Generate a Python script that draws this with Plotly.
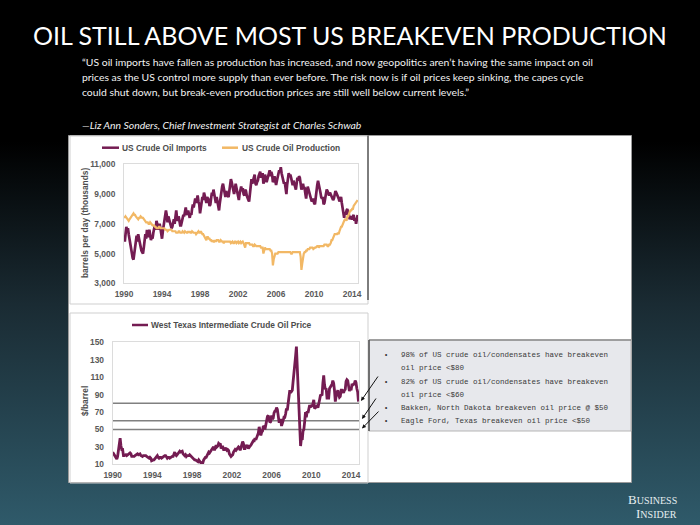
import base64
import pandas as pd
import plotly.graph_objects as go

W, H = 700, 525

# ---------------- data ----------------
imports_kbd = [
    6200, 5800, 6300, 6800, 6500, 6700, 6300, 5900, 5600, 5300, 5000, 4700,
    4600, 5000, 5400, 5900, 6200, 5800, 6300, 6000, 5700, 5400, 5200, 5100,
    5000, 5400, 5800, 6300, 6000, 6600, 6400, 6100, 6600, 6200, 5900, 6100,
    6000, 6400, 6700, 6900, 6600, 7200, 7000, 6600, 6900, 7000, 6700, 6400,
    6000, 6500, 6800, 7200, 7500, 7900, 7600, 7100, 7500, 7300, 7000, 6900,
    6700, 6800, 7100, 7300, 7000, 7600, 7900, 7400, 7200, 7500, 7100, 6900,
    6900, 7100, 7300, 7600, 7500, 7900, 8100, 7700, 7600, 7900, 7500, 7400,
    7700, 7600, 8000, 8300, 8100, 8500, 8700, 8400, 8600, 8900, 8500, 8300,
    7700, 8000, 8500, 8800, 8600, 9100, 8900, 8500, 8400, 8800, 8700, 8600,
    8200, 8300, 8700, 9100, 8900, 9300, 9000, 8600, 8400, 8800, 8500, 8300,
    7900, 8400, 8800, 9300, 9500, 9700, 9400, 9100, 8800, 9200, 9000, 8900,
    8800, 9200, 9600, 10000, 9800, 9500, 9200, 9000, 9300, 9700, 9400, 9100,
    8700, 8600, 9000, 9300, 9500, 9200, 9400, 9000, 8900, 9300, 9200, 8900,
    8800, 8600, 8500, 9200, 9600, 10000, 9700, 9900, 10100, 10300, 9700, 9600,
    9800, 9900, 10200, 10300, 10500, 10100, 10300, 10400, 9700, 9900, 10300, 10100,
    9800, 10000, 10300, 10400, 10600, 10200, 10500, 10300, 9800, 9900, 10200, 10000,
    9600, 9900, 10200, 10400, 10600, 10500, 10800, 10400, 10100, 9900, 9700, 9800,
    9100, 9000, 9600, 10000, 10400, 10200, 10300, 10100, 9800, 9600, 9900, 9700,
    9500, 9300, 9700, 10100, 9900, 10200, 10100, 9800, 9300, 9500, 9700, 9400,
    9400, 9000, 8700, 9200, 9500, 9300, 9100, 8900, 8700, 8500, 8600, 8700,
    8400, 8300, 8700, 9300, 9600, 9900, 9700, 9400, 9100, 8800, 8700, 8800,
    8300, 8400, 8800, 9100, 9300, 9200, 9000, 8900, 9100, 9000, 8800, 8700,
    8600, 8700, 9000, 9200, 9100, 9000, 8800, 8700, 8500, 8600, 8800, 8400,
    8000, 7700, 7400, 7800, 7600, 7900, 8000, 7700, 7600, 7300, 7500, 7400,
    7300, 7500, 7600, 7200, 7400, 7000, 7300, 7600,
]

production_kbd = [
    7500, 7400, 7500, 7400, 7300, 7200, 7200, 7300, 7400, 7500, 7600, 7600,
    7700, 7600, 7600, 7500, 7400, 7300, 7300, 7400, 7400, 7500, 7400, 7400,
    7400, 7300, 7300, 7200, 7100, 7100, 7100, 7000, 7000, 7100, 7000, 6900,
    6900, 6900, 6900, 6800, 6800, 6700, 6700, 6700, 6800, 6800, 6700, 6700,
    6700, 6700, 6700, 6700, 6600, 6600, 6600, 6500, 6600, 6600, 6600, 6600,
    6600, 6500, 6500, 6500, 6500, 6500, 6400, 6400, 6400, 6500, 6500, 6400,
    6400, 6400, 6500, 6400, 6400, 6500, 6400, 6400, 6400, 6500, 6400, 6500,
    6400, 6400, 6500, 6400, 6400, 6400, 6400, 6300, 6400, 6500, 6500, 6400,
    6400, 6500, 6400, 6300, 6300, 6200, 6200, 6100, 5900, 6100, 6100, 6000,
    6000, 5900, 5900, 5800, 5900, 5800, 5800, 5900, 5800, 5900, 5900, 5900,
    5800, 5800, 5900, 5800, 5800, 5800, 5700, 5800, 5800, 5800, 5800, 5800,
    5800, 5800, 5800, 5700, 5800, 5800, 5700, 5700, 5800, 5800, 5700, 5800,
    5800, 5700, 5800, 5800, 5700, 5800, 5800, 5700, 5500, 5400, 5700, 5700,
    5700, 5700, 5700, 5600, 5600, 5600, 5600, 5500, 5500, 5600, 5500, 5500,
    5500, 5500, 5500, 5500, 5500, 5400, 5400, 5400, 5000, 5200, 5400, 5300,
    5300, 5300, 5300, 5300, 5300, 5200, 5200, 5000, 4200, 4600, 4800, 5000,
    5000, 5000, 5000, 5100, 5100, 5100, 5100, 5100, 5100, 5100, 5100, 5100,
    5100, 5100, 5100, 5100, 5100, 5100, 5100, 5000, 5000, 5100, 5100, 5100,
    5100, 5100, 5100, 5100, 5100, 5100, 5100, 4800, 3900, 4300, 4900, 5000,
    5100, 5100, 5200, 5200, 5300, 5300, 5300, 5400, 5400, 5400, 5400, 5300,
    5400, 5400, 5400, 5500, 5500, 5500, 5400, 5500, 5500, 5500, 5500, 5500,
    5500, 5600, 5600, 5600, 5600, 5500, 5500, 5600, 5600, 5700, 5900, 5900,
    6100, 6200, 6300, 6300, 6300, 6300, 6400, 6300, 6500, 6700, 6800, 6800,
    7000, 7100, 7200, 7300, 7300, 7200, 7500, 7500, 7700, 7800, 7900, 7900,
    8000, 8000, 8200, 8300, 8400, 8500, 8600, 8600,
]

wti_usd = [
    24, 22, 20, 18, 17, 16, 19, 28, 35, 40, 31, 27,
    27, 20, 20, 21, 21, 20, 21, 22, 22, 23, 22, 19,
    19, 19, 19, 20, 21, 22, 22, 21, 22, 22, 20, 19,
    19, 20, 20, 20, 20, 19, 18, 18, 17, 18, 17, 14,
    15, 15, 15, 16, 18, 19, 20, 18, 17, 18, 18, 17,
    18, 18, 19, 20, 20, 18, 17, 18, 18, 17, 18, 19,
    19, 19, 21, 24, 21, 20, 21, 22, 24, 25, 24, 25,
    25, 22, 21, 20, 21, 19, 20, 20, 20, 21, 20, 18,
    17, 16, 15, 15, 15, 14, 14, 13, 15, 14, 13, 11,
    12, 12, 15, 17, 18, 18, 20, 21, 24, 23, 25, 26,
    27, 29, 30, 26, 29, 32, 30, 31, 34, 33, 34, 28,
    30, 30, 27, 27, 29, 28, 26, 27, 26, 22, 20, 19,
    20, 21, 24, 26, 27, 26, 27, 28, 30, 29, 26, 29,
    33, 36, 34, 28, 28, 31, 31, 32, 28, 30, 31, 32,
    34, 35, 37, 37, 40, 38, 41, 45, 46, 53, 49, 43,
    47, 48, 54, 53, 50, 56, 59, 65, 66, 62, 58, 59,
    66, 62, 63, 69, 71, 71, 75, 73, 64, 59, 59, 62,
    54, 59, 60, 64, 64, 68, 74, 72, 80, 86, 95, 92,
    93, 95, 105, 113, 125, 134, 145, 117, 104, 77, 55, 31,
    40, 38, 48, 50, 59, 70, 64, 71, 69, 76, 78, 75,
    78, 76, 81, 84, 74, 75, 76, 77, 75, 82, 84, 89,
    90, 90, 103, 112, 101, 96, 97, 86, 86, 86, 97, 99,
    100, 102, 106, 103, 95, 82, 88, 94, 95, 90, 87, 88,
    95, 95, 93, 92, 95, 96, 105, 107, 106, 101, 94, 98,
    95, 101, 101, 102, 102, 106, 104, 97, 93, 82,
]

breakeven_levels = [80, 60, 50]
year_ticks = ["1990", "1994", "1998", "2002", "2006", "2010", "2014"]
top_yticks = [3000, 5000, 7000, 9000, 11000]
bottom_yticks = [10, 30, 50, 70, 90, 110, 130, 150]

title_text = "OIL STILL ABOVE MOST US BREAKEVEN PRODUCTION"
quote_lines = [
    "\u201cUS oil imports have fallen as production has increased, and now geopolitics aren\u2019t having the same impact on oil",
    "prices as the US control more supply than ever before. The risk now is if oil prices keep sinking, the capes cycle",
    "could shut down, but break-even production prices are still well below current levels.\u201d",
]
attribution = "\u2014Liz Ann Sonders, Chief Investment Strategist at Charles Schwab"
bullet_lines = [
    ("\u2022", "98% of US crude oil/condensates have breakeven"),
    ("", "oil price <$80"),
    ("\u2022", "82% of US crude oil/condensates have breakeven"),
    ("", "oil price <$60"),
    ("\u2022", "Bakken, North Dakota breakeven oil price @ $50"),
    ("\u2022", "Eagle Ford, Texas breakeven oil price <$50"),
]

months_top = pd.date_range("1990-01-01", periods=len(imports_kbd), freq="MS")
months_wti = pd.date_range("1990-01-01", periods=len(wti_usd), freq="MS")

# ---------------- helpers ----------------
def px(x):
    return x / W


def py(y):
    return 1 - y / H


PURPLE = "#741c52"
ORANGE = "#f2b865"
GREY_TXT = "#4d4d4d"
SANS = "Liberation Sans, Arial"

fig = go.Figure()

fig.add_trace(go.Scatter(x=months_top, y=imports_kbd, mode="lines",
                         line=dict(color=PURPLE, width=2.7), xaxis="x", yaxis="y",
                         name="US Crude Oil Imports", showlegend=False))
fig.add_trace(go.Scatter(x=months_top, y=production_kbd, mode="lines",
                         line=dict(color=ORANGE, width=2.2), xaxis="x", yaxis="y",
                         name="US Crude Oil Production", showlegend=False))
fig.add_trace(go.Scatter(x=months_wti, y=wti_usd, mode="lines",
                         line=dict(color=PURPLE, width=2.8), xaxis="x2", yaxis="y2",
                         name="West Texas Intermediate Crude Oil Price", showlegend=False))

tickfont = dict(family=SANS, size=8.4, color="#595959", weight="bold")

fig.update_layout(
    width=W, height=H, autosize=False,
    margin=dict(l=0, r=0, t=0, b=0, autoexpand=False),
    paper_bgcolor="#000000",
    plot_bgcolor="rgba(0,0,0,0)",
    showlegend=False,
    xaxis=dict(domain=[px(124), px(358)], type="date",
               range=["1990-01-01", "2014-08-15"],
               tickvals=[f"{y}-01-01" for y in year_ticks], ticktext=year_ticks,
               showgrid=False, zeroline=False, ticks="", tickfont=tickfont,
               showline=True, mirror=True, linecolor="#dcdcdc", linewidth=1,
               ticklabelstandoff=3),
    yaxis=dict(domain=[py(283.3), py(164.3)], range=[3000, 11000],
               tickvals=top_yticks, tickformat=",d",
               showgrid=False, zeroline=False, ticks="", tickfont=tickfont,
               showline=True, mirror=True, linecolor="#dcdcdc", linewidth=1,
               ticklabelstandoff=6),
    xaxis2=dict(domain=[px(112.7), px(359)], type="date", anchor="y2",
                range=["1990-01-01", "2014-10-20"],
                tickvals=[f"{y}-01-01" for y in year_ticks], ticktext=year_ticks,
                showgrid=False, zeroline=False, ticks="", tickfont=tickfont,
                showline=True, mirror=True, linecolor="#dcdcdc", linewidth=1,
                ticklabelstandoff=3),
    yaxis2=dict(domain=[py(464.3), py(342.3)], range=[10, 150], anchor="x2",
                tickvals=bottom_yticks,
                showgrid=False, zeroline=False, ticks="", tickfont=tickfont,
                showline=True, mirror=True, linecolor="#dcdcdc", linewidth=1,
                ticklabelstandoff=6),
)

# background gradient
svg = ('<svg xmlns="http://www.w3.org/2000/svg" width="700" height="525">'
       '<defs><linearGradient id="g" x1="0" y1="0" x2="0" y2="1">'
       '<stop offset="0" stop-color="#000000"/>'
       '<stop offset="0.27" stop-color="#000000"/>'
       '<stop offset="0.58" stop-color="#1a2b33"/>'
       '<stop offset="1" stop-color="#2f5a6a"/>'
       '</linearGradient></defs><rect width="700" height="525" fill="url(#g)"/></svg>')
src = "data:image/svg+xml;base64," + base64.b64encode(svg.encode()).decode()
fig.add_layout_image(dict(source=src, xref="paper", yref="paper", x=0, y=1,
                          sizex=1, sizey=1, sizing="stretch", layer="below",
                          xanchor="left", yanchor="top"))

shapes = []


def rect(x0, y0, x1, y1, fill=None, line="#bfbfbf", lw=1):
    shapes.append(dict(type="rect", xref="paper", yref="paper",
                       x0=px(x0), x1=px(x1), y0=py(y1), y1=py(y0),
                       fillcolor=fill if fill else "rgba(0,0,0,0)",
                       line=dict(color=line, width=lw), layer="below"))


def seg(x0, y0, x1, y1, color, lw):
    shapes.append(dict(type="line", xref="paper", yref="paper",
                       x0=px(x0), x1=px(x1), y0=py(y0), y1=py(y1),
                       line=dict(color=color, width=lw), layer="below"))


# white panel and chart frames
rect(68.5, 135.5, 631.5, 482.5, fill="#ffffff", line="#9a9a9a", lw=1)
rect(70, 136, 368, 304, line="#cfcfcf", lw=1)
rect(70, 313, 368, 483, line="#cfcfcf", lw=1)
seg(368, 135.5, 368, 300, "#5a5a5a", 1.5)
# bullet box
rect(369, 340, 631, 431, fill="#e7e8ec", line="#b5b5b5", lw=1)
seg(369, 340, 631, 340, "#8c8c8c", 1.5)
seg(369, 340, 369, 431, "#505050", 1.5)

# breakeven reference lines on bottom chart
for lvl in breakeven_levels:
    shapes.append(dict(type="line", xref="x2 domain", yref="y2",
                       x0=0, x1=1, y0=lvl, y1=lvl,
                       line=dict(color="#808080", width=1.5), layer="below"))

# legend samples
seg(102, 147.7, 119, 147.7, PURPLE, 2.5)
seg(222, 147.7, 238, 147.7, ORANGE, 2.5)
seg(132, 325, 148, 325, PURPLE, 2.5)

fig.update_layout(shapes=shapes)

ann = []


def text(x, y, s, size, color, family, xanchor="left", **kw):
    ann.append(dict(x=px(x), y=py(y), xref="paper", yref="paper", text=s,
                    showarrow=False, xanchor=xanchor, yanchor="middle",
                    font=dict(size=size, color=color, family=family, **kw)))


# title + quote
text(350, 35, title_text, 25, "#ffffff", "Lato", xanchor="center")
for i, line in enumerate(quote_lines):
    text(80, 62 + 15 * i, line, 10.4, "#f2f2f2", "Lato")
text(80, 125, "<i>" + attribution + "</i>", 10.4, "#f2f2f2", "Lato")

# chart legends / axis titles
text(120, 147.7, "US Crude Oil Imports", 8.4, GREY_TXT, SANS, weight="bold")
text(240, 147.7, "US Crude Oil Production", 8.4, GREY_TXT, SANS, weight="bold")
text(149, 325, "West Texas Intermediate Crude Oil Price", 8.4, GREY_TXT, SANS, weight="bold")
ann.append(dict(x=px(85), y=py(223), xref="paper", yref="paper",
                xanchor="center", yanchor="middle",
                text="barrels per day (thousands)", textangle=-90, showarrow=False,
                font=dict(size=8.4, color=GREY_TXT, family=SANS, weight="bold")))
ann.append(dict(x=px(85), y=py(401), xref="paper", yref="paper",
                xanchor="center", yanchor="middle",
                text="$/barrel", textangle=-90, showarrow=False,
                font=dict(size=8.4, color=GREY_TXT, family=SANS, weight="bold")))

# bullet text
for i, (b, line) in enumerate(bullet_lines):
    yy = [355, 368, 382, 394.5, 407.5, 420.5][i]
    if b:
        text(386, yy, b, 7, "#333333", "Liberation Mono", xanchor="center")
    text(399, yy, line, 7.5, "#3a3a3a", "Liberation Mono")

# arrows
for (hx, hy, tx, ty) in [(361, 401, 379, 375), (362, 419, 377, 397), (362, 428.5, 380, 410)]:
    ann.append(dict(x=px(hx), y=py(hy), xref="paper", yref="paper", text="",
                    showarrow=True, ax=tx - hx, ay=ty - hy, axref="pixel", ayref="pixel",
                    arrowhead=2, arrowsize=0.8, arrowwidth=1, arrowcolor="#111111"))

# Business Insider logo
text(679, 499, "B<span style='font-size:10px'>USINESS</span>", 13, "#e6eef0",
     "Liberation Serif", xanchor="right")
text(679, 513, "I<span style='font-size:10px'>NSIDER</span>", 13, "#e6eef0",
     "Liberation Serif", xanchor="right")

fig.update_layout(annotations=ann)

fig.write_html("out.html", config={"displayModeBar": False},
               post_script="document.body.style.margin='0';document.body.style.overflow='hidden';")
